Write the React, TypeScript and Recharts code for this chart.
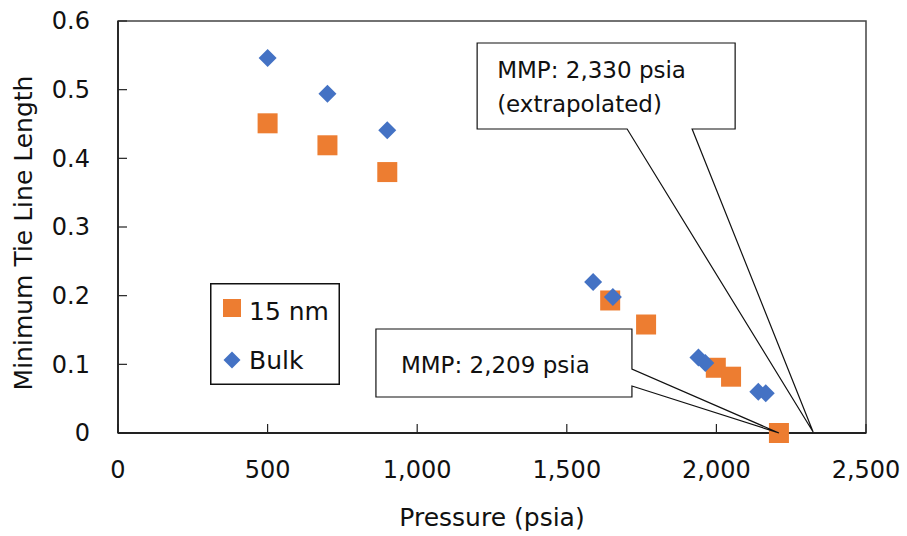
import React from 'react';
import {
  ScatterChart,
  Scatter,
  XAxis,
  YAxis,
  Legend,
  ReferenceArea,
  ReferenceDot,
} from 'recharts';

// 15 nm pore size
const pressure15 = [500, 700, 900, 1645, 1765, 1998, 2049, 2209];
const mtl15 = [0.451, 0.419, 0.38, 0.193, 0.158, 0.095, 0.082, 0];
// bulk
const pressureBulk = [500, 700, 900, 1588, 1654, 1940, 1963, 2140, 2165];
const mtlBulk = [0.546, 0.494, 0.441, 0.22, 0.198, 0.11, 0.102, 0.06, 0.058];

const xTicks = [0, 500, 1000, 1500, 2000, 2500];
const yTicks = [0, 0.1, 0.2, 0.3, 0.4, 0.5, 0.6];

const mmpExtrap = 2330;
const mmp15 = 2209;

const ORANGE = '#ED7D31';
const BLUE = '#4472C4';
const FONT = '"DejaVu Sans", Verdana, sans-serif';

const data15 = pressure15.map((p, i) => ({ p, v: mtl15[i] }));
const dataBulk = pressureBulk.map((p, i) => ({ p, v: mtlBulk[i] }));

const fmtThousands = (v: number) => v.toLocaleString('en-US');

const SquareShape = (props: any) => {
  const { cx, cy } = props;
  return <rect x={cx - 10} y={cy - 10} width={20} height={20} fill={ORANGE} />;
};

const DiamondShape = (props: any) => {
  const { cx, cy } = props;
  const h = 9;
  return (
    <polygon
      points={`${cx},${cy - h} ${cx + h},${cy} ${cx},${cy + h} ${cx - h},${cy}`}
      fill={BLUE}
    />
  );
};

const XTick = (props: any) => {
  const { x, y, payload } = props;
  return (
    <g>
      <line x1={x} y1={y} x2={x} y2={y - 9} stroke="#222" strokeWidth={1.2} />
      <text x={x} y={y + 37} dy="0.35em" textAnchor="middle" fontSize={24} fontFamily={FONT} fill="#111">
        {fmtThousands(payload.value)}
      </text>
    </g>
  );
};

const YTick = (props: any) => {
  const { x, y, payload } = props;
  return (
    <g>
      <line x1={x} y1={y} x2={x + 9} y2={y} stroke="#222" strokeWidth={1.2} />
      <text x={90} y={y} dy="0.35em" textAnchor="end" fontSize={24} fontFamily={FONT} fill="#111">
        {String(payload.value)}
      </text>
    </g>
  );
};

// callout with a wedge pointing at the MMP point (offsets are relative to the tip)
const CalloutTop = (props: any) => {
  const { cx, cy } = props;
  const L = cx - 338, T = cy - 390, R = cx - 80, B = cy - 304;
  const b1 = cx - 188, b2 = cx - 123;
  const pts = [
    [L, T], [R, T], [R, B], [b2, B], [cx - 2, cy - 1], [b1, B], [L, B],
  ].map((p) => p.join(',')).join(' ');
  return (
    <g>
      <polygon points={pts} fill="#fff" stroke="#111" strokeWidth={1.2} />
      <text x={cx - 318} y={cy - 355} fontSize={23} fontFamily={FONT} fill="#111">MMP: 2,330 psia</text>
      <text x={cx - 318} y={cy - 321} fontSize={23} fontFamily={FONT} fill="#111">(extrapolated)</text>
    </g>
  );
};

const CalloutLow = (props: any) => {
  const { cx, cy } = props;
  const L = cx - 403, T = cy - 104, R = cx - 147, B = cy - 36;
  const pts = [
    [L, T], [R, T], [R, cy - 64], [cx, cy], [R, cy - 47], [R, B], [L, B],
  ].map((p) => p.join(',')).join(' ');
  return (
    <g>
      <polygon points={pts} fill="#fff" stroke="#111" strokeWidth={1.2} />
      <text x={cx - 378} y={cy - 60} fontSize={23} fontFamily={FONT} fill="#111">MMP: 2,209 psia</text>
    </g>
  );
};

const LegendBox = () => (
  <svg width={130} height={102} style={{ display: 'block' }}>
    <rect x={0.75} y={0.75} width={128.5} height={100.5} fill="#fff" stroke="#111" strokeWidth={1.5} />
    <rect x={13} y={16} width={18} height={18} fill={ORANGE} />
    <text x={39} y={37} fontSize={25} fontFamily={FONT} fill="#111">15 nm</text>
    <polygon points="22,68.5 30.5,77 22,85.5 13.5,77" fill={BLUE} />
    <text x={39} y={86} fontSize={25} fontFamily={FONT} fill="#111">Bulk</text>
  </svg>
);

export default function App() {
  return (
    <div style={{ position: 'absolute', left: 0, top: 0, width: 907, height: 536, background: '#fff' }}>
      <ScatterChart width={907} height={536} margin={{ top: 21, right: 41, bottom: 0, left: 0 }}>
        <ReferenceArea x1={0} x2={2500} y1={0} y2={0.6} fill="none" stroke="#444" strokeWidth={1.5} />
        <XAxis
          type="number"
          dataKey="p"
          domain={[0, 2500]}
          ticks={xTicks}
          height={103}
          tickSize={0}
          tickMargin={0}
          tickLine={false}
          tick={<XTick />}
          axisLine={{ stroke: '#222', strokeWidth: 1.8 }}
          label={{
            content: (p: any) => {
              const vb = p.viewBox;
              return (
                <text x={vb.x + vb.width / 2} y={vb.y + 93} textAnchor="middle" fontSize={25} fontFamily={FONT} fill="#111">
                  Pressure (psia)
                </text>
              );
            },
          }}
        />
        <YAxis
          type="number"
          dataKey="v"
          domain={[0, 0.6]}
          ticks={yTicks}
          width={118}
          tickSize={0}
          tickMargin={0}
          tickLine={false}
          tick={<YTick />}
          axisLine={{ stroke: '#222', strokeWidth: 1.8 }}
          label={{
            content: (p: any) => {
              const vb = p.viewBox;
              const cy = vb.y + vb.height / 2 + 6;
              return (
                <text x={32} y={cy} transform={`rotate(-90, 32, ${cy})`} textAnchor="middle" fontSize={25} fontFamily={FONT} fill="#111">
                  Minimum Tie Line Length
                </text>
              );
            },
          }}
        />
        <Legend
          layout="vertical"
          align="center"
          verticalAlign="middle"
          content={() => <LegendBox />}
          wrapperStyle={{ left: 210, top: 283, width: 130, height: 102, lineHeight: 0 }}
        />
        <Scatter name="15 nm" data={data15} shape={<SquareShape />} isAnimationActive={false} />
        <Scatter name="Bulk" data={dataBulk} shape={<DiamondShape />} isAnimationActive={false} />
        <ReferenceDot x={mmpExtrap} y={0} r={1} shape={<CalloutTop />} />
        <ReferenceDot x={mmp15} y={0} r={1} shape={<CalloutLow />} />
      </ScatterChart>
    </div>
  );
}
